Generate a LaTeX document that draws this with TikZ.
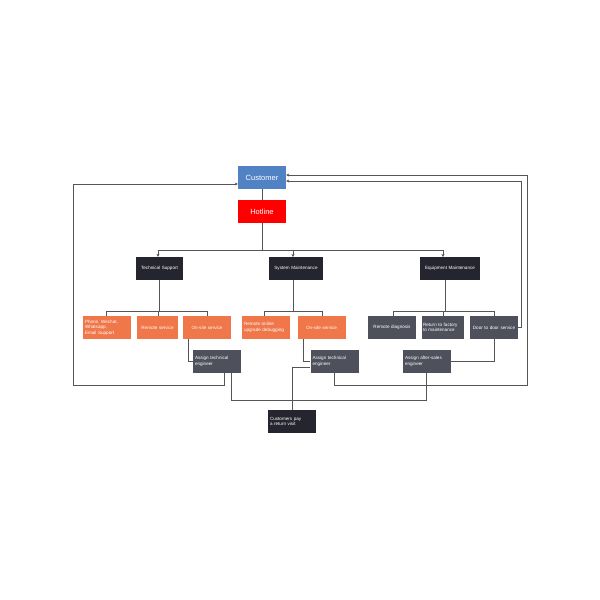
\documentclass[tikz,border=0pt]{standalone}
\usepackage{fontspec}
\setmainfont{Liberation Sans}
\usetikzlibrary{arrows.meta}
\definecolor{cblue}{HTML}{5182C4}
\definecolor{cdark}{HTML}{25252F}
\definecolor{corange}{HTML}{EF774A}
\definecolor{cgrey}{HTML}{4E515B}
\definecolor{cline}{HTML}{555555}
\begin{document}
\begin{tikzpicture}[x=1pt,y=-1pt,
 bx/.style={minimum width=48pt,minimum height=23pt,inner sep=1pt,text=white,font=\fontsize{4.6}{5.4}\selectfont,align=left,text width=44pt},
 ln/.style={draw=cline,line width=0.9pt},
 ar/.style={ln,-{Stealth[length=3pt,width=3pt]}}]
\useasboundingbox (0,0) rectangle (600,600);
\node[bx,fill=cblue,font=\fontsize{7.5}{9}\selectfont,align=center] (cust) at (262,177.5) {Customer};
\node[bx,fill=red,font=\fontsize{7.5}{9}\selectfont,align=center] (hot) at (262,211.5) {Hotline};
\node[bx,fill=cdark,align=center,minimum width=47pt] (ts) at (159.5,268.5) {Technical Support};
\node[bx,fill=cdark,align=center,minimum width=52pt,text width=52pt] (sm) at (296,268.5) {System Maintenance};
\node[bx,fill=cdark,align=center,minimum width=58pt,text width=58pt] (em) at (450,268.5) {Equipment Maintenance};
\node[bx,fill=corange] (ph) at (107,327.5) {Phone, Wechat,\\Whatsapp,\\Email Support};
\node[bx,fill=corange,minimum width=41pt,text width=39pt,align=center] (rs) at (157.5,327.5) {Remote service};
\node[bx,fill=corange,align=center] (os1) at (207,327.5) {On-site service};
\node[bx,fill=corange] (ro) at (266,327.5) {Remote online\\upgrade debugging};
\node[bx,fill=corange,align=center] (os2) at (321.5,327.5) {On-site service};
\node[bx,fill=cgrey,align=center] (rd) at (392,327.5) {Remote diagnosis};
\node[bx,fill=cgrey,minimum width=42pt,text width=40pt] (rf) at (443,327.5) {Return to factory\\to maintenance};
\node[bx,fill=cgrey,align=center] (dd) at (494,327.5) {Door to door service};
\node[bx,fill=cgrey] (a1) at (217,361.5) {Assign technical\\engineer};
\node[bx,fill=cgrey] (a2) at (334.5,361.5) {Assign technical\\engineer};
\node[bx,fill=cgrey] (a3) at (427,361.5) {Assign after-sales\\engineer};
\node[bx,fill=cdark] (cp) at (292,421.5) {Customers pay\\a return visit};
\draw[ln] (cust) -- (hot);
\draw[ln] (hot.south) -- (262,250);
\draw[ar] (158,250) -- (443,250) (158,250) -- (ts.north -| 158,0);
\draw[ar] (293,250) -- (293,257);
\draw[ar] (443,250) -- (443,257);
\draw[ln] (ts.south) -- (159.5,311) (106,316) -- (106,311) -- (207,311) -- (207,316) (158,311) -- (158,316);
\draw[ln] (293,280) -- (293,311) (264,316) -- (264,311) -- (322,311) -- (322,316);
\draw[ln] (445,280) -- (445,311) (393,316) -- (393,311) -- (494,311) -- (494,316) (443,311) -- (443,316);
\draw[ln] (188,339) -- (188,361.5) -- (a1.west);
\draw[ln] (303,339) -- (303,361.5) -- (a2.west);
\draw[ln] (494,339) -- (494,361.5) -- (a3.east);
\draw[ar] (224,373) -- (224,385) -- (73,385) -- (73,184) -- (cust.west |- 0,184);
\draw[ln] (231,373) -- (231,400) -- (426,400) -- (426,373);
\draw[ln] (cp.north -| 292,0) -- (292,367) -- (a2.west |- 0,367);
\draw[ar] (334,373) -- (334,385) -- (527,385) -- (527,175) -- (cust.east |- 0,175);
\draw[ar] (dd.east) -- (521,327.5) -- (521,181) -- (cust.east |- 0,181);
\end{tikzpicture}
\end{document}
